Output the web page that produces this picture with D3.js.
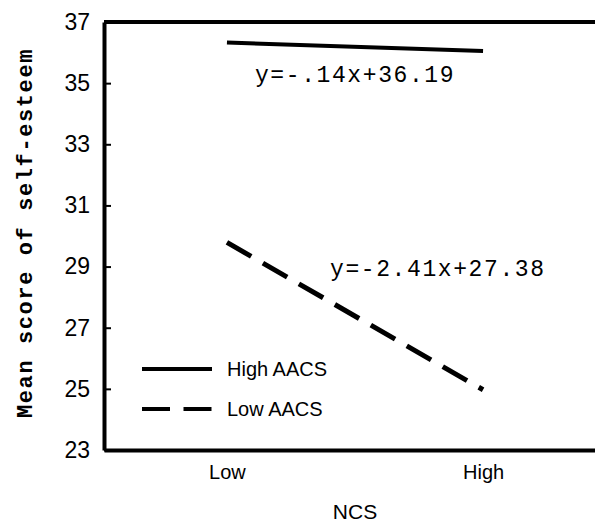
<!DOCTYPE html>
<html>
<head>
<meta charset="utf-8">
<script src="https://cdn.jsdelivr.net/npm/d3@7"></script>
<style>
  body { margin: 0; background: #fff; }
  svg { display: block; }
  .axis text { font-family: "Liberation Sans", Arial, sans-serif; fill: #000; }
  .eq { font-family: "Liberation Mono", "Courier New", monospace; font-size: 23px; letter-spacing: 1.6px; }
</style>
</head>
<body>
<svg id="chart" width="595" height="525"></svg>
<script>
'use strict';

// data
var ncsLevels = ['Low', 'High'];
var highAACS = [36.33, 36.05];
var lowAACS = [29.79, 24.97];
var yTicks = [23, 25, 27, 29, 31, 33, 35, 37];
var seriesNames = ['High AACS', 'Low AACS'];
var equations = ['y=-.14x+36.19', 'y=-2.41x+27.38'];

var svg = d3.select('svg');

var x = d3.scalePoint()
    .domain(ncsLevels)
    .range([104, 606])
    .padding(0.48);

var y = d3.scaleLinear()
    .domain([23, 37])
    .range([450, 22]);

var axisY = d3.axisLeft(y)
    .tickValues(yTicks)
    .tickSizeInner(-7)
    .tickSizeOuter(0)
    .tickPadding(14);

var axisX = d3.axisBottom(x)
    .tickSize(0)
    .tickPadding(15);

// frame: top line
svg.append('line')
    .attr('x1', x.range()[0])
    .attr('x2', x.range()[1])
    .attr('y1', y(37))
    .attr('y2', y(37))
    .attr('stroke', '#000')
    .attr('stroke-width', 4);

var gx = svg.append('g')
    .attr('class', 'axis')
    .attr('transform', 'translate(0,' + y.range()[0] + ')')
    .call(axisX);
gx.select('.domain').attr('stroke-width', 4);
gx.selectAll('text').style('font-size', '20px');

var gy = svg.append('g')
    .attr('class', 'axis')
    .attr('transform', 'translate(' + x.range()[0] + ',0)')
    .call(axisY);
gy.select('.domain').attr('stroke-width', 4);
gy.selectAll('.tick line').attr('stroke-width', 2);
gy.selectAll('text').style('font-size', '23px');

// axis titles
svg.append('text')
    .attr('x', 355)
    .attr('y', 519)
    .attr('text-anchor', 'middle')
    .style('font-family', '"Liberation Sans", Arial, sans-serif')
    .style('font-size', '21px')
    .text('NCS');

svg.append('text')
    .attr('transform', 'translate(32,233) rotate(-90)')
    .attr('text-anchor', 'middle')
    .style('font-family', '"Liberation Mono", "Courier New", monospace')
    .style('font-size', '22px')
    .style('font-weight', 'bold')
    .style('letter-spacing', '1.6px')
    .text('Mean score of self-esteem');

// lines
var line = d3.line()
    .x(function(d, i) { return x(ncsLevels[i]); })
    .y(function(d) { return y(d); });

var dash = '28,13.5';

svg.append('path')
    .datum(highAACS)
    .attr('d', line)
    .attr('fill', 'none')
    .attr('stroke', '#000')
    .attr('stroke-width', 4);

svg.append('path')
    .datum(lowAACS)
    .attr('d', line)
    .attr('fill', 'none')
    .attr('stroke', '#000')
    .attr('stroke-width', 5)
    .attr('stroke-dasharray', dash);

// equations
svg.append('text')
    .attr('class', 'eq')
    .attr('x', x('Low') + 28)
    .attr('y', y(highAACS[0]) + 40)
    .text(equations[0]);

svg.append('text')
    .attr('class', 'eq')
    .attr('x', 330)
    .attr('y', 276)
    .text(equations[1]);

// legend
var legend = svg.append('g')
    .attr('transform', 'translate(142,369)');

var item = legend.selectAll('g')
    .data(seriesNames)
    .enter()
    .append('g')
    .attr('transform', function(d, i) { return 'translate(0,' + (i * 40) + ')'; });

item.append('line')
    .attr('x1', 0)
    .attr('x2', 70)
    .attr('stroke', '#000')
    .attr('stroke-width', 4)
    .attr('stroke-dasharray', function(d, i) { return i === 1 ? dash : null; });

item.append('text')
    .attr('x', 85)
    .attr('y', 7)
    .style('font-family', '"Liberation Sans", Arial, sans-serif')
    .style('font-size', '20px')
    .text(function(d) { return d; });
</script>
</body>
</html>
